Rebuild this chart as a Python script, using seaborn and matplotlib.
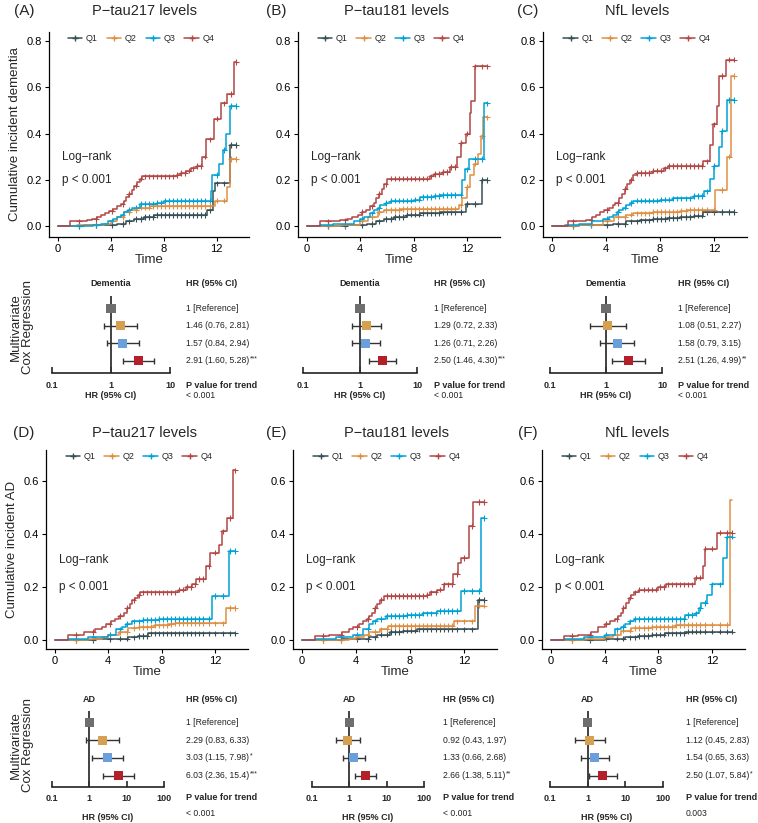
import numpy as np
import pandas as pd
import seaborn as sns
import matplotlib.pyplot as plt
from matplotlib.lines import Line2D

W, H = 758, 823

groups = ["Q1", "Q2", "Q3", "Q4"]
km_colors = ["#374E55", "#DF8F44", "#00A1D5", "#B24745"]
forest_colors = ["#6E6E6E", "#D4A052", "#6A9FDB", "#B3202A"]

# cumulative incidence step curves, (times, values) per quartile
ptau217_dementia = {
    "Q1": ([0, 2.0, 3.0, 4.5, 5.2, 5.8, 6.5, 7.3, 11.3, 11.7, 11.9, 13.0, 13.5],
           [0, 0.003, 0.005, 0.01, 0.02, 0.03, 0.04, 0.047, 0.07, 0.15, 0.185, 0.35, 0.35]),
    "Q2": ([0, 1.5, 2.5, 3.5, 4.0, 4.5, 5.0, 5.5, 6.0, 7.0, 11.9, 12.8, 13.0, 13.5],
           [0, 0.003, 0.005, 0.01, 0.02, 0.04, 0.06, 0.07, 0.08, 0.088, 0.11, 0.17, 0.29, 0.29]),
    "Q3": ([0, 2.7, 3.3, 3.8, 4.2, 4.5, 4.8, 5.0, 5.3, 5.6, 6.2, 7.5, 8.0, 11.55, 11.65, 12.2, 12.5, 12.7, 13.0, 13.5],
           [0, 0.005, 0.01, 0.02, 0.03, 0.04, 0.05, 0.06, 0.07, 0.08, 0.095, 0.10, 0.11, 0.15, 0.22, 0.27, 0.33, 0.40, 0.52, 0.52]),
    "Q4": ([0, 0.9, 1.8, 2.2, 2.6, 3.0, 3.3, 3.6, 3.9, 4.2, 4.5, 4.8, 5.0, 5.2, 5.4, 5.6, 5.8, 6.0, 6.2, 6.4,
            9.0, 9.3, 9.7, 10.1, 10.5, 10.9, 11.2, 11.8, 12.3, 12.8, 13.3, 13.5],
           [0, 0.02, 0.022, 0.025, 0.03, 0.04, 0.05, 0.055, 0.065, 0.075, 0.085, 0.095, 0.11, 0.125, 0.14, 0.155,
            0.175, 0.19, 0.205, 0.215, 0.222, 0.23, 0.24, 0.25, 0.26, 0.30, 0.375, 0.465, 0.53, 0.57, 0.71, 0.71]),
}
ptau181_dementia = {
    "Q1": ([0, 3.0, 4.0, 4.5, 5.2, 5.8, 6.5, 7.5, 8.5, 10.0, 11.9, 13.1, 13.5],
           [0, 0.003, 0.005, 0.01, 0.02, 0.03, 0.04, 0.05, 0.055, 0.06, 0.095, 0.2, 0.2]),
    "Q2": ([0, 2.5, 3.0, 4.0, 4.6, 5.3, 5.8, 7.0, 11.35, 11.6, 12.0, 12.2, 12.5, 12.8, 13.0, 13.2, 13.5],
           [0, 0.003, 0.005, 0.02, 0.04, 0.06, 0.07, 0.075, 0.09, 0.12, 0.17, 0.22, 0.27, 0.31, 0.39, 0.47, 0.47]),
    "Q3": ([0, 1.0, 2.0, 3.5, 4.0, 4.3, 4.7, 5.0, 5.3, 5.5, 5.9, 6.3, 8.0, 8.5, 9.5, 10.0, 11.6, 11.8, 12.1, 13.25, 13.5],
           [0, 0.005, 0.01, 0.02, 0.03, 0.04, 0.055, 0.07, 0.08, 0.09, 0.10, 0.11, 0.115, 0.125, 0.13, 0.135, 0.2, 0.245,
            0.29, 0.53, 0.53]),
    "Q4": ([0, 1.0, 2.5, 3.0, 3.4, 3.8, 4.1, 4.4, 4.7, 5.0, 5.2, 5.4, 5.6, 5.8, 6.0, 9.2, 9.5, 10.2, 10.7, 11.2,
            11.5, 11.9, 12.2, 12.3, 12.6, 13.5],
           [0, 0.02, 0.025, 0.03, 0.04, 0.05, 0.06, 0.07, 0.085, 0.10, 0.12, 0.14, 0.16, 0.18, 0.205, 0.215, 0.225,
            0.235, 0.255, 0.30, 0.36, 0.40, 0.49, 0.54, 0.69, 0.69]),
}
nfl_dementia = {
    "Q1": ([0, 2.0, 3.5, 4.5, 5.5, 6.5, 7.5, 8.5, 9.5, 10.5, 11.2, 13.5],
           [0, 0.003, 0.005, 0.01, 0.02, 0.025, 0.03, 0.035, 0.04, 0.045, 0.06, 0.06]),
    "Q2": ([0, 2.0, 2.8, 3.8, 4.6, 5.5, 6.0, 7.5, 9.5, 10.0, 12.1, 13.0, 13.3, 13.5],
           [0, 0.003, 0.005, 0.02, 0.04, 0.05, 0.055, 0.06, 0.065, 0.07, 0.155, 0.30, 0.65, 0.65]),
    "Q3": ([0, 1.0, 2.0, 3.0, 3.8, 4.2, 4.5, 4.8, 5.0, 5.3, 5.5, 5.8, 6.0, 8.0, 9.0, 10.5, 11.3, 11.7, 12.0, 12.4,
            12.6, 13.0, 13.5],
           [0, 0.005, 0.01, 0.02, 0.03, 0.04, 0.05, 0.06, 0.07, 0.08, 0.09, 0.10, 0.11, 0.115, 0.12, 0.13, 0.15, 0.205,
            0.26, 0.34, 0.41, 0.545, 0.545]),
    "Q4": ([0, 1.2, 2.5, 3.0, 3.3, 3.6, 3.9, 4.2, 4.5, 4.7, 5.0, 5.2, 5.4, 5.6, 5.8, 6.0, 6.3, 7.5, 8.3, 8.6,
            11.2, 11.7, 11.9, 12.2, 12.4, 12.9, 13.5],
           [0, 0.02, 0.025, 0.04, 0.05, 0.06, 0.07, 0.08, 0.09, 0.10, 0.12, 0.14, 0.16, 0.18, 0.20, 0.22, 0.23,
            0.24, 0.25, 0.26, 0.28, 0.35, 0.44, 0.52, 0.65, 0.72, 0.72]),
}
ptau217_ad = {
    "Q1": ([0, 3.0, 4.5, 5.5, 6.2, 7.0, 13.5],
           [0, 0.002, 0.005, 0.01, 0.015, 0.025, 0.025]),
    "Q2": ([0, 2.5, 3.5, 4.0, 4.8, 5.5, 6.3, 7.5, 8.5, 9.0, 12.8, 13.5],
           [0, 0.005, 0.01, 0.02, 0.03, 0.045, 0.05, 0.055, 0.06, 0.063, 0.12, 0.12]),
    "Q3": ([0, 1.0, 2.5, 4.0, 4.6, 5.0, 5.3, 5.8, 6.6, 7.8, 11.75, 13.05, 13.5],
           [0, 0.005, 0.01, 0.02, 0.04, 0.05, 0.06, 0.07, 0.075, 0.08, 0.165, 0.335, 0.335]),
    "Q4": ([0, 1.0, 2.2, 3.0, 3.5, 3.8, 4.2, 4.5, 4.8, 5.2, 5.4, 5.6, 5.8, 6.0, 6.2, 6.4, 9.3, 9.8, 10.3, 10.6,
            11.3, 11.6, 12.3, 12.5, 12.9, 13.35, 13.5],
           [0, 0.02, 0.03, 0.04, 0.05, 0.06, 0.07, 0.08, 0.09, 0.10, 0.12, 0.135, 0.15, 0.16, 0.17, 0.18, 0.19,
            0.20, 0.21, 0.23, 0.28, 0.33, 0.36, 0.41, 0.46, 0.64, 0.64]),
}
ptau181_ad = {
    "Q1": ([0, 3.0, 5.0, 5.6, 6.5, 7.5, 8.5, 13.05, 13.5],
           [0, 0.003, 0.01, 0.02, 0.03, 0.035, 0.04, 0.15, 0.15]),
    "Q2": ([0, 3.5, 4.0, 4.6, 5.0, 5.8, 6.4, 11.3, 12.8, 13.5],
           [0, 0.005, 0.01, 0.02, 0.03, 0.04, 0.053, 0.07, 0.13, 0.13]),
    "Q3": ([0, 1.0, 2.5, 3.8, 4.5, 5.0, 5.3, 5.6, 6.2, 7.8, 9.0, 10.0, 11.8, 13.3, 13.5],
           [0, 0.005, 0.01, 0.02, 0.04, 0.06, 0.07, 0.08, 0.09, 0.095, 0.10, 0.11, 0.185, 0.46, 0.46]),
    "Q4": ([0, 1.0, 2.0, 3.0, 3.5, 3.8, 4.2, 4.5, 4.8, 5.0, 5.2, 5.4, 5.6, 5.8, 6.1, 9.3, 9.5, 10.0, 10.5, 11.2,
            11.6, 11.8, 12.4, 12.7, 13.5],
           [0, 0.015, 0.02, 0.03, 0.04, 0.05, 0.06, 0.07, 0.08, 0.09, 0.10, 0.12, 0.135, 0.15, 0.165, 0.17, 0.18,
            0.19, 0.21, 0.25, 0.29, 0.31, 0.43, 0.52, 0.52]),
}
nfl_ad = {
    "Q1": ([0, 4.0, 5.5, 6.5, 7.5, 8.5, 10.0, 13.5],
           [0, 0.005, 0.01, 0.015, 0.02, 0.025, 0.032, 0.032]),
    "Q2": ([0, 2.5, 4.0, 4.6, 5.2, 6.0, 7.5, 9.3, 13.35, 13.45],
           [0, 0.005, 0.01, 0.02, 0.035, 0.045, 0.05, 0.057, 0.53, 0.53]),
    "Q3": ([0, 1.0, 2.5, 4.0, 4.8, 5.2, 5.5, 5.9, 6.2, 10.0, 10.8, 11.0, 11.2, 11.6, 12.0, 12.8, 13.1, 13.5],
           [0, 0.005, 0.01, 0.02, 0.04, 0.05, 0.06, 0.07, 0.08, 0.095, 0.10, 0.12, 0.14, 0.17, 0.21, 0.31, 0.39, 0.39]),
    "Q4": ([0, 1.0, 2.0, 3.0, 3.5, 4.0, 4.4, 4.8, 5.0, 5.2, 5.4, 5.6, 5.8, 6.0, 6.2, 6.6, 8.0, 8.6, 10.7, 11.3,
            11.5, 12.4, 13.5],
           [0, 0.015, 0.02, 0.03, 0.05, 0.06, 0.07, 0.08, 0.09, 0.10, 0.12, 0.14, 0.16, 0.17, 0.18, 0.19, 0.20,
            0.21, 0.235, 0.28, 0.345, 0.405, 0.405]),
}
censor_times = [1.6, 2.9, 4.1, 4.9, 5.4, 5.9, 6.3, 6.6, 6.9, 7.2, 7.5, 7.8, 8.1, 8.4, 8.7, 9.0,
                9.3, 9.6, 9.9, 10.2, 10.5, 10.8, 11.1, 11.5, 12.0, 12.6, 13.1, 13.5]

# multivariate Cox regression, Q1 (reference) .. Q4
hr_A = [1.00, 1.46, 1.57, 2.91]
lo_A = [1.00, 0.76, 0.84, 1.60]
hi_A = [1.00, 2.81, 2.94, 5.28]
star_A = ["", "", "", "***"]
hr_B = [1.00, 1.29, 1.26, 2.50]
lo_B = [1.00, 0.72, 0.71, 1.46]
hi_B = [1.00, 2.33, 2.26, 4.30]
star_B = ["", "", "", "***"]
hr_C = [1.00, 1.08, 1.58, 2.51]
lo_C = [1.00, 0.51, 0.79, 1.26]
hi_C = [1.00, 2.27, 3.15, 4.99]
star_C = ["", "", "", "**"]
hr_D = [1.00, 2.29, 3.03, 6.03]
lo_D = [1.00, 0.83, 1.15, 2.36]
hi_D = [1.00, 6.33, 7.98, 15.4]
star_D = ["", "", "*", "***"]
hr_E = [1.00, 0.92, 1.33, 2.66]
lo_E = [1.00, 0.43, 0.66, 1.38]
hi_E = [1.00, 1.97, 2.68, 5.11]
star_E = ["", "", "", "**"]
hr_F = [1.00, 1.12, 1.54, 2.50]
lo_F = [1.00, 0.45, 0.65, 1.07]
hi_F = [1.00, 2.83, 3.63, 5.84]
star_F = ["", "", "", "*"]
p_trend = ["< 0.001", "< 0.001", "< 0.001", "< 0.001", "< 0.001", "0.003"]

titles = ["P\u2212tau217 levels", "P\u2212tau181 levels", "NfL levels"]

sns.set_style("ticks")
plt.rcParams["font.family"] = ["Liberation Sans", "DejaVu Sans"]

fig = plt.figure(figsize=(W / 100, H / 100), dpi=100)
renderer = fig.canvas.get_renderer()


def add_ax(left, top, right, bottom):
    return fig.add_axes([left / W, 1 - bottom / H, (right - left) / W, (bottom - top) / H])


def fmt(v):
    return f"{v:.2f}" if v < 10 else f"{v:.1f}"


def draw_km(ax, curves, ylim, yticks, ylabel):
    df = pd.concat([pd.DataFrame({"time": curves[g][0], "cuminc": curves[g][1], "group": g})
                    for g in groups], ignore_index=True)
    sns.lineplot(data=df, x="time", y="cuminc", hue="group", hue_order=groups,
                 palette=km_colors, estimator=None, drawstyle="steps-post",
                 linewidth=1.1, legend=False, ax=ax)
    marks = []
    for g in groups:
        t, y = np.array(curves[g][0]), np.array(curves[g][1])
        c = np.array([ct for ct in censor_times if ct <= t[-1]])
        idx = np.searchsorted(t, c, side="right") - 1
        marks.append(pd.DataFrame({"time": c, "cuminc": y[idx], "group": g}))
    sns.scatterplot(data=pd.concat(marks, ignore_index=True), x="time", y="cuminc",
                    hue="group", hue_order=groups, palette=km_colors, marker="+",
                    s=16, linewidth=0.8, legend=False, ax=ax)
    ax.set_xlim(-0.65, 14.45)
    ax.set_ylim(*ylim)
    ax.set_xticks([0, 4, 8, 12])
    ax.set_yticks(yticks)
    ax.set_yticklabels([f"{v:.1f}" for v in yticks])
    ax.tick_params(labelsize=8, length=3, width=0.8, colors="black", pad=2)
    ax.set_xlabel("Time", fontsize=9.5, labelpad=0)
    ax.set_ylabel(ylabel, fontsize=9.5, labelpad=4)
    for s in ["left", "bottom"]:
        ax.spines[s].set_linewidth(0.9)
        ax.spines[s].set_color("black")
    sns.despine(ax=ax)
    ax.text(0.3, 0.3, "Log\u2212rank", fontsize=8.5, va="center")
    ax.text(0.3, 0.2, "p < 0.001", fontsize=8.5, va="center")
    handles = [Line2D([0], [0], color=c, lw=1.1, marker="+", markersize=4) for c in km_colors]
    ax.legend(handles, groups, ncol=4, loc="upper center", bbox_to_anchor=(0.46, 1.03),
              frameon=False, fontsize=6.5, handlelength=1.6, handletextpad=0.4,
              columnspacing=1.0)


def draw_forest(ax, hr, lo, hi, stars, ptxt, xmax, header, text_px, ylim, tick_pad,
                header_y, pv_y, pval_y, xlab_y):
    ypos = [4, 3, 2, 1]
    hr, lo, hi = np.array(hr), np.array(lo), np.array(hi)
    ax.set_xscale("log")
    ax.axvline(1, color="#333333", lw=1.3, zorder=1)
    ax.errorbar(hr[1:], ypos[1:], xerr=[hr[1:] - lo[1:], hi[1:] - hr[1:]], fmt="none",
                ecolor="#333333", elinewidth=1.0, capsize=2, capthick=1.0, zorder=2)
    sns.scatterplot(x=hr, y=ypos, hue=groups, palette=forest_colors, marker="s", s=42,
                    edgecolor="none", legend=False, ax=ax, zorder=3)
    ticks = [0.1, 1, 10, 100] if xmax == 100 else [0.1, 1, 10]
    ax.set_xlim(0.1, xmax)
    ax.set_ylim(*ylim)
    ax.set_xticks(ticks)
    ax.set_xticklabels([str(t) for t in ticks], fontweight="bold")
    ax.minorticks_off()
    ax.set_yticks([])
    ax.tick_params(axis="x", direction="in", length=4, width=1.2, labelsize=6.5, pad=tick_pad)
    for s in ["left", "top", "right"]:
        ax.spines[s].set_visible(False)
    ax.spines["bottom"].set_linewidth(1.2)
    ax.spines["bottom"].set_color("#222222")
    ax.patch.set_alpha(0)
    bb = ax.get_position()
    cx = (bb.x0 + bb.x1) / 2
    to_fig = fig.transFigure.inverted()
    fig.text(to_fig.transform(ax.transData.transform((1, 0)))[0], 1 - header_y / H, header,
             fontsize=6.5, fontweight="bold", ha="center", va="center")
    fig.text(cx, 1 - xlab_y / H, "HR (95% CI)", fontsize=6.5, fontweight="bold",
             ha="center", va="center")
    tx = text_px / W
    fig.text(tx, 1 - header_y / H, "HR (95% CI)", fontsize=6.5, fontweight="bold", va="center")
    for i, y in enumerate(ypos):
        yf = to_fig.transform(ax.transData.transform((1, y)))[1]
        s = "1 [Reference]" if i == 0 else f"{fmt(hr[i])} ({fmt(lo[i])}, {fmt(hi[i])})"
        t = fig.text(tx, yf, s, fontsize=6.2, va="center", color="#222222")
        if stars[i]:
            ext = t.get_window_extent(renderer=renderer)
            fig.text(ext.x1 / fig.bbox.width + 0.5 / W, yf + 1.5 / H, stars[i], fontsize=5,
                     va="center", color="#222222")
    fig.text(tx, 1 - pv_y / H, "P value for trend", fontsize=6.5, fontweight="bold", va="center")
    fig.text(tx, 1 - pval_y / H, ptxt, fontsize=6.2, va="center", color="#222222")


km_specs = [
    (ptau217_dementia, (49, 32, 249, 237), "Cumulative incident dementia"),
    (ptau181_dementia, (298, 32, 500, 237), ""),
    (nfl_dementia, (543, 32, 747, 237), ""),
    (ptau217_ad, (46, 450, 248, 649), "Cumulative incident AD"),
    (ptau181_ad, (293, 450, 497, 649), ""),
    (nfl_ad, (542, 450, 745, 649), ""),
]
for i, (curves, box, ylab) in enumerate(km_specs):
    ax = add_ax(*box)
    if i < 3:
        draw_km(ax, curves, (-0.047, 0.839), [0, 0.2, 0.4, 0.6, 0.8], ylab)
    else:
        draw_km(ax, curves, (-0.034, 0.717), [0, 0.2, 0.4, 0.6], ylab)

title_x = [145, 397, 637]
letter_x = [24, 276, 528]
letters = ["(A)", "(B)", "(C)", "(D)", "(E)", "(F)"]
for r, ty in enumerate([11, 433]):
    for c in range(3):
        fig.text(title_x[c] / W, 1 - ty / H, titles[c], fontsize=10.5, ha="center", va="center")
        fig.text(letter_x[c] / W, 1 - ty / H, letters[r * 3 + c], fontsize=11,
                 ha="center", va="center")

forest_specs = [
    (hr_A, lo_A, hi_A, star_A, 10, "Dementia", (52, 296, 170, 373), 186),
    (hr_B, lo_B, hi_B, star_B, 10, "Dementia", (303, 296, 417, 373), 434),
    (hr_C, lo_C, hi_C, star_C, 10, "Dementia", (550, 296, 662, 373), 678),
    (hr_D, lo_D, hi_D, star_D, 100, "AD", (52, 711, 164, 787), 186),
    (hr_E, lo_E, hi_E, star_E, 100, "AD", (312, 711, 424, 787), 443),
    (hr_F, lo_F, hi_F, star_F, 100, "AD", (550, 711, 663, 787), 686),
]
for i, (hr, lo, hi, st, xmax, head, box, tpx) in enumerate(forest_specs):
    ax = add_ax(*box)
    if i < 3:
        draw_forest(ax, hr, lo, hi, st, p_trend[i], xmax, head, tpx, (0.3, 4.7), 5.5,
                    283, 385, 396, 396)
    else:
        draw_forest(ax, hr, lo, hi, st, p_trend[i], xmax, head, tpx, (0.35, 4.65), 5.0,
                    700, 798, 813, 817)

for yc in [327, 745]:
    fig.text(22 / W, 1 - yc / H, "Multivariate\nCox Regression", fontsize=9.5, rotation=90,
             ha="center", va="center", linespacing=1.05)

fig.savefig("out.png", dpi=100)
